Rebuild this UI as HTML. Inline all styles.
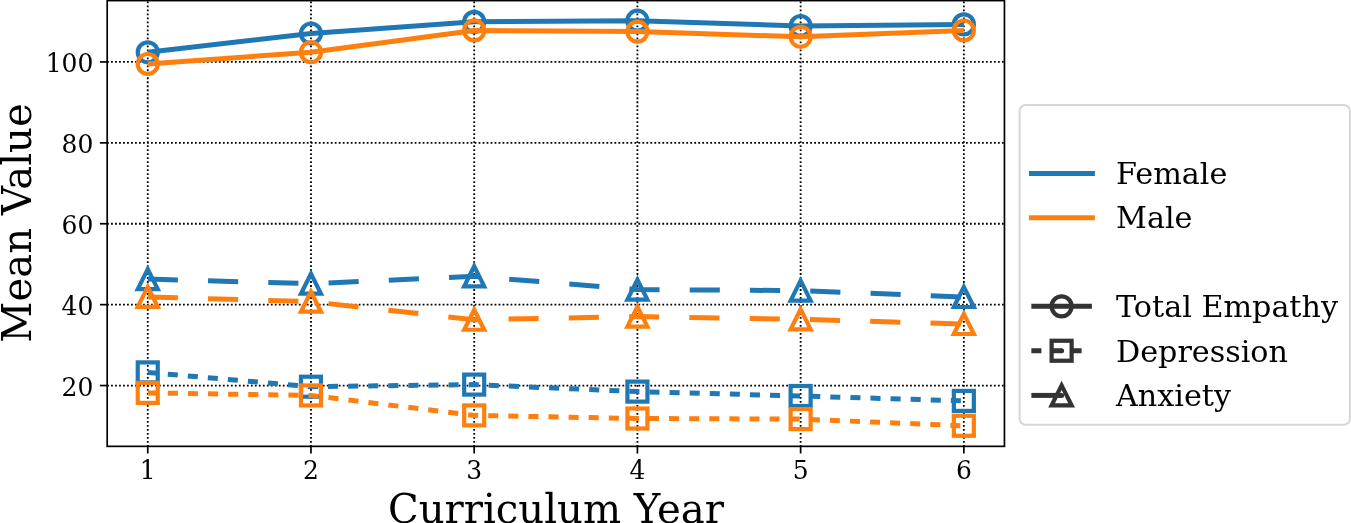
<!DOCTYPE html>
<html><head><meta charset="utf-8"><title>Mean Value by Curriculum Year</title>
<style>html,body{margin:0;padding:0;background:#fff;overflow:hidden}svg{display:block}text{font-family:'DejaVu Serif', 'Liberation Serif', serif;fill:#000}</style></head><body>
<svg width="1351" height="523" viewBox="0 0 1351 523">
<rect width="1351" height="523" fill="#fff"/>
<g stroke="#000" stroke-width="1.8" stroke-dasharray="1.8 2.195" stroke-linecap="butt"><line x1="147.75" y1="446.35" x2="147.75" y2="0.6" stroke-dashoffset="0.35"/><line x1="310.97" y1="446.35" x2="310.97" y2="0.6" stroke-dashoffset="0.35"/><line x1="474.19" y1="446.35" x2="474.19" y2="0.6" stroke-dashoffset="0.35"/><line x1="637.41" y1="446.35" x2="637.41" y2="0.6" stroke-dashoffset="0.35"/><line x1="800.63" y1="446.35" x2="800.63" y2="0.6" stroke-dashoffset="0.35"/><line x1="963.85" y1="446.35" x2="963.85" y2="0.6" stroke-dashoffset="0.35"/><line x1="107.2" y1="385.55" x2="1004.45" y2="385.55" stroke-dashoffset="0.15"/><line x1="107.2" y1="304.65" x2="1004.45" y2="304.65" stroke-dashoffset="0.15"/><line x1="107.2" y1="223.75" x2="1004.45" y2="223.75" stroke-dashoffset="0.15"/><line x1="107.2" y1="142.85" x2="1004.45" y2="142.85" stroke-dashoffset="0.15"/><line x1="107.2" y1="61.95" x2="1004.45" y2="61.95" stroke-dashoffset="0.15"/></g>
<polyline points="147.75,52.3 310.97,33.5 474.19,21.85 637.41,20.7 800.63,26 963.85,24.4" fill="none" stroke="#1f77b4" stroke-width="5" stroke-linejoin="round" stroke-linecap="butt"/>
<circle cx="147.75" cy="52.3" r="10" fill="none" stroke="#1f77b4" stroke-width="4.2"/><circle cx="310.97" cy="33.5" r="10" fill="none" stroke="#1f77b4" stroke-width="4.2"/><circle cx="474.19" cy="21.85" r="10" fill="none" stroke="#1f77b4" stroke-width="4.2"/><circle cx="637.41" cy="20.7" r="10" fill="none" stroke="#1f77b4" stroke-width="4.2"/><circle cx="800.63" cy="26" r="10" fill="none" stroke="#1f77b4" stroke-width="4.2"/><circle cx="963.85" cy="24.4" r="10" fill="none" stroke="#1f77b4" stroke-width="4.2"/>
<polyline points="147.75,64 310.97,52.2 474.19,30.4 637.41,31.6 800.63,36.8 963.85,30.5" fill="none" stroke="#ff7f0e" stroke-width="5" stroke-linejoin="round" stroke-linecap="butt"/>
<circle cx="147.75" cy="64" r="10" fill="none" stroke="#ff7f0e" stroke-width="4.2"/><circle cx="310.97" cy="52.2" r="10" fill="none" stroke="#ff7f0e" stroke-width="4.2"/><circle cx="474.19" cy="30.4" r="10" fill="none" stroke="#ff7f0e" stroke-width="4.2"/><circle cx="637.41" cy="31.6" r="10" fill="none" stroke="#ff7f0e" stroke-width="4.2"/><circle cx="800.63" cy="36.8" r="10" fill="none" stroke="#ff7f0e" stroke-width="4.2"/><circle cx="963.85" cy="30.5" r="10" fill="none" stroke="#ff7f0e" stroke-width="4.2"/>
<polyline points="147.75,372.4 310.97,386.7 474.19,384.6 637.41,391.6 800.63,396 963.85,400.9" fill="none" stroke="#1f77b4" stroke-width="5" stroke-linejoin="round" stroke-dasharray="10.05 10.05" stroke-linecap="butt"/>
<rect x="137.75" y="362.4" width="20" height="20" fill="none" stroke="#1f77b4" stroke-width="4.2" stroke-linejoin="miter"/><rect x="300.97" y="376.7" width="20" height="20" fill="none" stroke="#1f77b4" stroke-width="4.2" stroke-linejoin="miter"/><rect x="464.19" y="374.6" width="20" height="20" fill="none" stroke="#1f77b4" stroke-width="4.2" stroke-linejoin="miter"/><rect x="627.41" y="381.6" width="20" height="20" fill="none" stroke="#1f77b4" stroke-width="4.2" stroke-linejoin="miter"/><rect x="790.63" y="386" width="20" height="20" fill="none" stroke="#1f77b4" stroke-width="4.2" stroke-linejoin="miter"/><rect x="953.85" y="390.9" width="20" height="20" fill="none" stroke="#1f77b4" stroke-width="4.2" stroke-linejoin="miter"/>
<polyline points="147.75,392.9 310.97,395.45 474.19,415.4 637.41,418.5 800.63,419.1 963.85,425.8" fill="none" stroke="#ff7f0e" stroke-width="5" stroke-linejoin="round" stroke-dasharray="10.05 10.05" stroke-linecap="butt"/>
<rect x="137.75" y="382.9" width="20" height="20" fill="none" stroke="#ff7f0e" stroke-width="4.2" stroke-linejoin="miter"/><rect x="300.97" y="385.45" width="20" height="20" fill="none" stroke="#ff7f0e" stroke-width="4.2" stroke-linejoin="miter"/><rect x="464.19" y="405.4" width="20" height="20" fill="none" stroke="#ff7f0e" stroke-width="4.2" stroke-linejoin="miter"/><rect x="627.41" y="408.5" width="20" height="20" fill="none" stroke="#ff7f0e" stroke-width="4.2" stroke-linejoin="miter"/><rect x="790.63" y="409.1" width="20" height="20" fill="none" stroke="#ff7f0e" stroke-width="4.2" stroke-linejoin="miter"/><rect x="953.85" y="415.8" width="20" height="20" fill="none" stroke="#ff7f0e" stroke-width="4.2" stroke-linejoin="miter"/>
<polyline points="147.75,279.1 310.97,283.7 474.19,276.3 637.41,289.6 800.63,290.6 963.85,297" fill="none" stroke="#1f77b4" stroke-width="5" stroke-linejoin="round" stroke-dasharray="30.15 30.15" stroke-linecap="butt"/>
<path d="M147.75 269.1L137.75 289.1L157.75 289.1Z" fill="none" stroke="#1f77b4" stroke-width="4.2" stroke-linejoin="miter" stroke-miterlimit="10"/><path d="M310.97 273.7L300.97 293.7L320.97 293.7Z" fill="none" stroke="#1f77b4" stroke-width="4.2" stroke-linejoin="miter" stroke-miterlimit="10"/><path d="M474.19 266.3L464.19 286.3L484.19 286.3Z" fill="none" stroke="#1f77b4" stroke-width="4.2" stroke-linejoin="miter" stroke-miterlimit="10"/><path d="M637.41 279.6L627.41 299.6L647.41 299.6Z" fill="none" stroke="#1f77b4" stroke-width="4.2" stroke-linejoin="miter" stroke-miterlimit="10"/><path d="M800.63 280.6L790.63 300.6L810.63 300.6Z" fill="none" stroke="#1f77b4" stroke-width="4.2" stroke-linejoin="miter" stroke-miterlimit="10"/><path d="M963.85 287L953.85 307L973.85 307Z" fill="none" stroke="#1f77b4" stroke-width="4.2" stroke-linejoin="miter" stroke-miterlimit="10"/>
<polyline points="147.75,296.9 310.97,301.7 474.19,319.75 637.41,316.6 800.63,319.3 963.85,324" fill="none" stroke="#ff7f0e" stroke-width="5" stroke-linejoin="round" stroke-dasharray="30.15 30.15" stroke-linecap="butt"/>
<path d="M147.75 286.9L137.75 306.9L157.75 306.9Z" fill="none" stroke="#ff7f0e" stroke-width="4.2" stroke-linejoin="miter" stroke-miterlimit="10"/><path d="M310.97 291.7L300.97 311.7L320.97 311.7Z" fill="none" stroke="#ff7f0e" stroke-width="4.2" stroke-linejoin="miter" stroke-miterlimit="10"/><path d="M474.19 309.75L464.19 329.75L484.19 329.75Z" fill="none" stroke="#ff7f0e" stroke-width="4.2" stroke-linejoin="miter" stroke-miterlimit="10"/><path d="M637.41 306.6L627.41 326.6L647.41 326.6Z" fill="none" stroke="#ff7f0e" stroke-width="4.2" stroke-linejoin="miter" stroke-miterlimit="10"/><path d="M800.63 309.3L790.63 329.3L810.63 329.3Z" fill="none" stroke="#ff7f0e" stroke-width="4.2" stroke-linejoin="miter" stroke-miterlimit="10"/><path d="M963.85 314L953.85 334L973.85 334Z" fill="none" stroke="#ff7f0e" stroke-width="4.2" stroke-linejoin="miter" stroke-miterlimit="10"/>
<rect x="107.2" y="0.6" width="897.25" height="445.75" fill="none" stroke="#000" stroke-width="1.7" stroke-linejoin="miter"/>
<g stroke="#000" stroke-width="1.7"><line x1="147.75" y1="446.35" x2="147.75" y2="453.5"/><line x1="310.97" y1="446.35" x2="310.97" y2="453.5"/><line x1="474.19" y1="446.35" x2="474.19" y2="453.5"/><line x1="637.41" y1="446.35" x2="637.41" y2="453.5"/><line x1="800.63" y1="446.35" x2="800.63" y2="453.5"/><line x1="963.85" y1="446.35" x2="963.85" y2="453.5"/><line x1="107.2" y1="385.55" x2="99.9" y2="385.55"/><line x1="107.2" y1="304.65" x2="99.9" y2="304.65"/><line x1="107.2" y1="223.75" x2="99.9" y2="223.75"/><line x1="107.2" y1="142.85" x2="99.9" y2="142.85"/><line x1="107.2" y1="61.95" x2="99.9" y2="61.95"/></g>
<g font-size="25"><text text-anchor="middle" transform="translate(147.75 479.1) scale(1 1.025)">1</text><text text-anchor="middle" transform="translate(310.97 479.1) scale(1 1.025)">2</text><text text-anchor="middle" transform="translate(474.19 479.1) scale(1 1.025)">3</text><text text-anchor="middle" transform="translate(637.41 479.1) scale(1 1.025)">4</text><text text-anchor="middle" transform="translate(800.63 479.1) scale(1 1.025)">5</text><text text-anchor="middle" transform="translate(963.85 479.1) scale(1 1.025)">6</text><text text-anchor="end" transform="translate(93.4 395.65) scale(1 1.03)">20</text><text text-anchor="end" transform="translate(93.4 314.75) scale(1 1.03)">40</text><text text-anchor="end" transform="translate(93.4 233.85) scale(1 1.03)">60</text><text text-anchor="end" transform="translate(93.4 152.95) scale(1 1.03)">80</text><text text-anchor="end" transform="translate(93.4 72.05) scale(1 1.03)">100</text></g>
<text font-size="40.2" text-anchor="middle" x="555.9" y="522.6">Curriculum Year</text>
<text font-size="40.2" text-anchor="middle" transform="translate(31 223) rotate(-90)">Mean Value</text>
<rect x="1019.6" y="105" width="330.3" height="319.7" rx="6" ry="6" fill="#fff" stroke="#d6d6d6" stroke-width="2"/>
<line x1="1031.45" y1="173.4" x2="1092.4" y2="173.4" stroke="#1f77b4" stroke-width="5" stroke-linecap="square"/><line x1="1031.45" y1="217.8" x2="1092.4" y2="217.8" stroke="#ff7f0e" stroke-width="5" stroke-linecap="square"/><line x1="1031.35" y1="306.35" x2="1091.9" y2="306.35" stroke="#333333" stroke-width="5" stroke-linecap="butt"/><circle cx="1061.62" cy="306.35" r="10" fill="none" stroke="#333333" stroke-width="4.2"/><line x1="1031.35" y1="350.75" x2="1091.4" y2="350.75" stroke="#333333" stroke-width="5" stroke-linecap="butt" stroke-dasharray="10.05 10.05"/><circle cx="1061.62" cy="350.75" r="2.5" fill="#333333"/><rect x="1051.62" y="340.75" width="20" height="20" fill="none" stroke="#333333" stroke-width="4.2" stroke-linejoin="miter"/><line x1="1031.35" y1="395.4" x2="1091.4" y2="395.4" stroke="#333333" stroke-width="5" stroke-linecap="butt" stroke-dasharray="30.15 30.15"/><circle cx="1061.62" cy="395.4" r="2.5" fill="#333333"/><path d="M1061.62 385.4L1051.62 405.4L1071.62 405.4Z" fill="none" stroke="#333333" stroke-width="4.2" stroke-linejoin="miter" stroke-miterlimit="10"/>
<g font-size="30.2"><text x="1116.05" y="184.4">Female</text><text x="1116.05" y="228.4">Male</text><text x="1116.05" y="317.3">Total Empathy</text><text x="1116.05" y="361.6">Depression</text><text x="1116.05" y="406.1">Anxiety</text></g>
</svg></body></html>
